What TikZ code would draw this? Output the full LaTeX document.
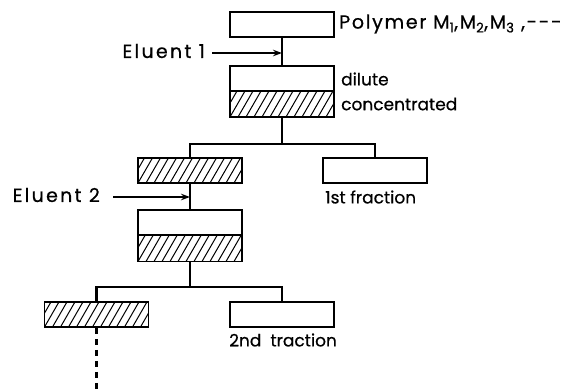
\documentclass[tikz,border=0pt]{standalone}
\usepackage{fontspec}
\setmainfont{Poppins}[FakeBold=0.6]
\usetikzlibrary{arrows.meta}
\begin{document}
\begin{tikzpicture}[x=1pt,y=-1pt,
  box/.style={draw,line width=1.8pt,minimum width=104pt,minimum height=25pt,inner sep=0pt},
  hatch/.style={box,path picture={
     \foreach \i in {-4,...,14}
       \draw[line width=1pt] ([xshift=\i*8pt]path picture bounding box.south west) -- ++(60:40pt);}},
  conn/.style={line width=2.6pt},
  feed/.style={line width=1.8pt,-{Stealth[length=9pt,width=6.5pt]}},
  lbl/.style={anchor=west,inner sep=0pt,font=\fontsize{17}{20}\selectfont},
  poly/.style={lbl,font=\fontsize{19}{21}\selectfont\addfontfeature{LetterSpace=9}},
  wide/.style={lbl,font=\fontsize{19}{21}\selectfont\addfontfeature{LetterSpace=12}}
]
\useasboundingbox (0,0) rectangle (567,389);
\node[box] (b1) at (282,24.5) {};
\node[box] (b2t) at (282,78.5) {};
\node[hatch,minimum height=26pt] (b2b) at (282,104) {};
\node[hatch] (b3) at (190,170.5) {};
\node[box] (f1) at (375,170.5) {};
\node[box] (b4t) at (190,222.5) {};
\node[hatch,minimum height=26pt] (b4b) at (190,248.5) {};
\node[hatch] (b5) at (96.5,314.5) {};
\node[box] (f2) at (282,314.5) {};
% labels
\node[poly] (lp) at (339,24) {Polymer M\textsubscript{1},M\textsubscript{2},M\textsubscript{3} ,-{}-{}-};
\node[lbl] (ld) at (341,79) {dilute};
\node[lbl] (lc) at (341,104) {concentrated};
\node[lbl] (l1) at (325,197) {1st fraction};
\node[lbl] (l2) at (229,340) {2nd\ \ traction};
\node[wide,anchor=east] (e1t) at (205,51) {Eluent 1};
\node[wide,anchor=east] (e2t) at (100,195) {Eluent 2};
% connectors
\coordinate (e1) at (212,53);
\coordinate (e2) at (113,197);
\coordinate (br1) at (282,144);
\coordinate (br2) at (190,287);
\coordinate (tail) at (96.5,389);
\draw[conn] (b1.south) -- (b2t.north);
\draw[feed] (e1) -- (e1 -| b1.south);
\draw[conn] (b2b.south) -- (br1);
\draw[conn] (b3.north) |- (br1) -| (f1.north);
\draw[conn] (b3.south) -- (b4t.north);
\draw[feed] (e2) -- (e2 -| b3.south);
\draw[conn] (b4b.south) -- (br2);
\draw[conn] (b5.north) |- (br2) -| (f2.north);
\draw[conn,dash pattern=on 6pt off 5pt] (b5.south) -- (tail);
\end{tikzpicture}
\end{document}
